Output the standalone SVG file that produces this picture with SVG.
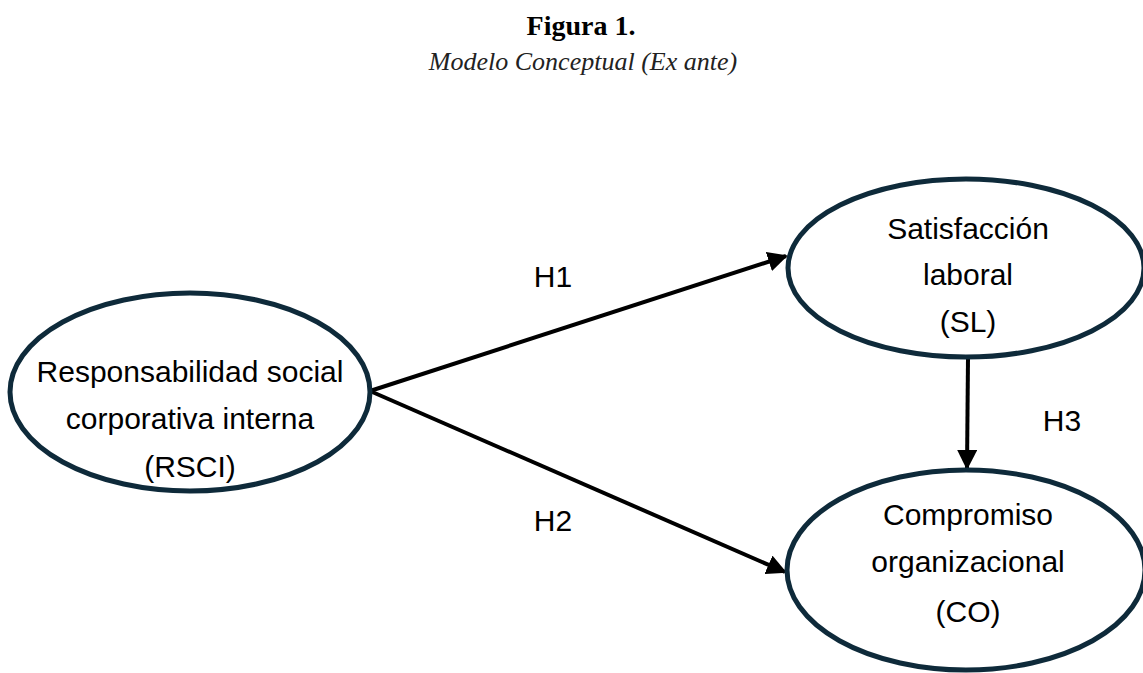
<svg xmlns="http://www.w3.org/2000/svg" width="1143" height="673" viewBox="0 0 1143 673">
<style>
.title{font-family:"Liberation Serif",serif;font-size:28px;font-weight:bold;fill:#000}
.sub{font-family:"Liberation Serif",serif;font-size:26px;font-style:italic;fill:#222}
.node ellipse{fill:#fff;stroke:#0e2a3a;stroke-width:5}
.node text{font-family:"Liberation Sans",sans-serif;font-size:30px;fill:#000;text-anchor:middle}
.lbl{font-family:"Liberation Sans",sans-serif;font-size:30px;fill:#000;text-anchor:middle}
.conn line{stroke:#000;stroke-width:4;marker-end:url(#ah)}
</style>
<defs>
<marker id="ah" viewBox="0 0 10 10" refX="9" refY="5" markerWidth="5" markerHeight="5" orient="auto" markerUnits="strokeWidth">
<path d="M0,0 L10,5 L0,10 Z" fill="#000"/>
</marker>
</defs>
<rect width="1143" height="673" fill="#fff"/>
<text class="title" x="581" y="35" text-anchor="middle">Figura 1.</text>
<text class="sub" x="583" y="70" text-anchor="middle">Modelo Conceptual (Ex ante)</text>
<g class="conn">
<line x1="370" y1="391" x2="786" y2="256"/>
<line x1="370" y1="391" x2="785" y2="572"/>
<line x1="968" y1="358" x2="967" y2="468"/>
</g>
<g id="rsci" class="node">
<ellipse cx="190" cy="392" rx="180" ry="99"/>
<text x="190" y="382">Responsabilidad social</text>
<text x="190" y="429">corporativa interna</text>
<text x="190" y="477">(RSCI)</text>
</g>
<g id="sl" class="node">
<ellipse cx="966" cy="268" rx="178" ry="89"/>
<text x="968" y="239">Satisfacción</text>
<text x="968" y="285">laboral</text>
<text x="968" y="332">(SL)</text>
</g>
<g id="co" class="node">
<ellipse cx="966" cy="570" rx="179" ry="100"/>
<text x="968" y="525">Compromiso</text>
<text x="968" y="572">organizacional</text>
<text x="968" y="622">(CO)</text>
</g>
<text class="lbl" x="553" y="287">H1</text>
<text class="lbl" x="553" y="531">H2</text>
<text class="lbl" x="1062" y="431">H3</text>
</svg>
